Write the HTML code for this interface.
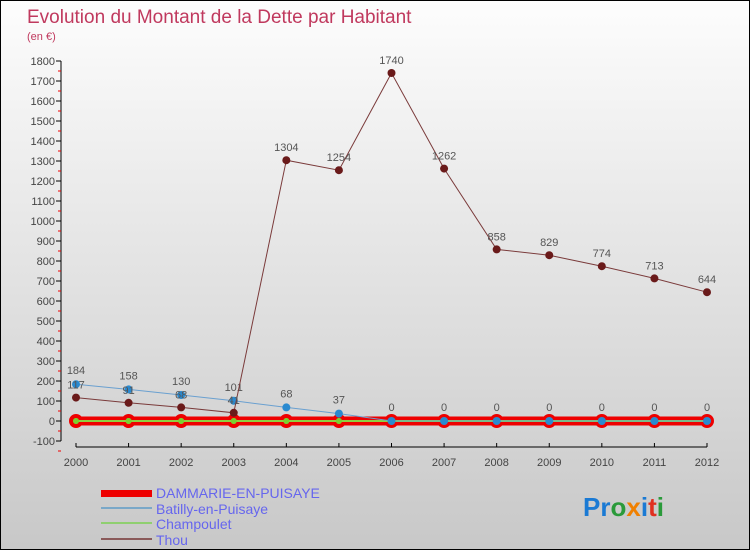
<!DOCTYPE html>
<html><head><meta charset="utf-8"><style>
body{margin:0}
#c{position:relative;width:748px;height:548px;border:1px solid #000;background:linear-gradient(#fdfdfd,#c8c8c8);font-family:"Liberation Sans",sans-serif;overflow:hidden}
svg text{font-family:"Liberation Sans",sans-serif}
</style></head><body>
<div id="c">
<svg id="s" width="748" height="548" xmlns="http://www.w3.org/2000/svg">
<text x="26" y="22" font-size="19" fill="#c0395e">Evolution du Montant de la Dette par Habitant</text>
<text x="26" y="39" font-size="11" fill="#c0395e">(en €)</text>
<g id="ax"></g><g id="ser"></g>
<g>
<rect x="100" y="489" width="51" height="7" fill="#e00"/>
<text x="155" y="497" font-size="14" fill="#6666ee">DAMMARIE-EN-PUISAYE</text>
<rect x="100" y="506" width="51" height="2" fill="#7aa8c8"/>
<text x="155" y="513" font-size="14" fill="#6666ee">Batilly-en-Puisaye</text>
<rect x="100" y="521" width="51" height="2" fill="#8fcf70"/>
<text x="155" y="528" font-size="14" fill="#6666ee">Champoulet</text>
<rect x="100" y="537" width="51" height="2" fill="#8a5a5a"/>
<text x="155" y="544" font-size="14" fill="#6666ee">Thou</text>
</g>
<text x="582" y="515" font-size="26" font-weight="bold"><tspan fill="#1a7ad4">Pr</tspan><tspan fill="#2a9a3a">o</tspan><tspan fill="#f08000">x</tspan><tspan fill="#1a7ad4">i</tspan><tspan fill="#e03020">t</tspan><tspan fill="#2a9a3a">i</tspan></text>
</svg></div>
<script>
const years=[2000,2001,2002,2003,2004,2005,2006,2007,2008,2009,2010,2011,2012];
const yTicks=[-100,0,100,200,300,400,500,600,700,800,900,1000,1100,1200,1300,1400,1500,1600,1700,1800];
const thou=[117,91,68,41,1304,1254,1740,1262,858,829,774,713,644];
const batilly=[184,158,130,101,68,37,0,0,0,0,0,0,0];
const champoulet=[0,0,0,0,0,0,0,0,0,0,0,0,0];
const dammarie=[0,0,0,0,0,0,0,0,0,0,0,0,0];
const NS="http://www.w3.org/2000/svg";
const X=i=>75+i*(706-75)/(years.length-1);
const Y=v=>420-v*0.2;
function el(t,a,p){const e=document.createElementNS(NS,t);for(const k in a)e.setAttribute(k,a[k]);p.appendChild(e);return e;}
const ax=document.getElementById('ax'),ser=document.getElementById('ser');
let l=el('line',{x1:60,y1:Y(1800),x2:60,y2:Y(-100),stroke:'#000'},ax);


yTicks.forEach(v=>{el('line',{x1:55,x2:60,y1:Y(v),y2:Y(v),stroke:'#000'},ax);
el('line',{x1:57,x2:60,y1:Y(v)+10,y2:Y(v)+10,stroke:'#e00'},ax);
const t=el('text',{x:54,y:Y(v)+4,'text-anchor':'end','font-size':11,fill:'#444'},ax);t.textContent=v;

});
l=el('line',{x1:X(0),x2:X(12),y1:446,y2:446,stroke:'#000'},ax);


years.forEach((y,i)=>{el('line',{x1:X(i),x2:X(i),y1:442,y2:446,stroke:'#000'},ax);
const t=el('text',{x:X(i),y:465,'text-anchor':'middle','font-size':11,fill:'#444'},ax);t.textContent=y;

});
function series(d,name,col,w,r,fillc,lab,dy){
const g=el('g',{},ser);


el('polyline',{points:d.map((v,i)=>X(i)+','+Y(v)).join(' '),fill:'none',stroke:col,'stroke-width':w},g);
d.forEach((v,i)=>{const c=el('circle',{cx:X(i),cy:Y(v),r:r,fill:fillc,stroke:col==='#e00'?'#e00':'none','stroke-width':col==='#e00'?4:0},g);


if(lab){const t=el('text',{x:X(i),y:Y(v)-dy,'text-anchor':'middle','font-size':11,fill:'#555'},g);t.textContent=v;}});
}
series(dammarie,'dammarie','#e00',9,5,'#7ccf30',false);
series(champoulet,'champoulet','#8fcf40',2,3,'#7ccf30',false);
series(batilly,'batilly','#6aa0d0',1,4,'#2a8ad0',true,10);
series(thou,'thou','#7a3a3a',1,4,'#6a1a1a',true,9);
</script>
</body></html>
